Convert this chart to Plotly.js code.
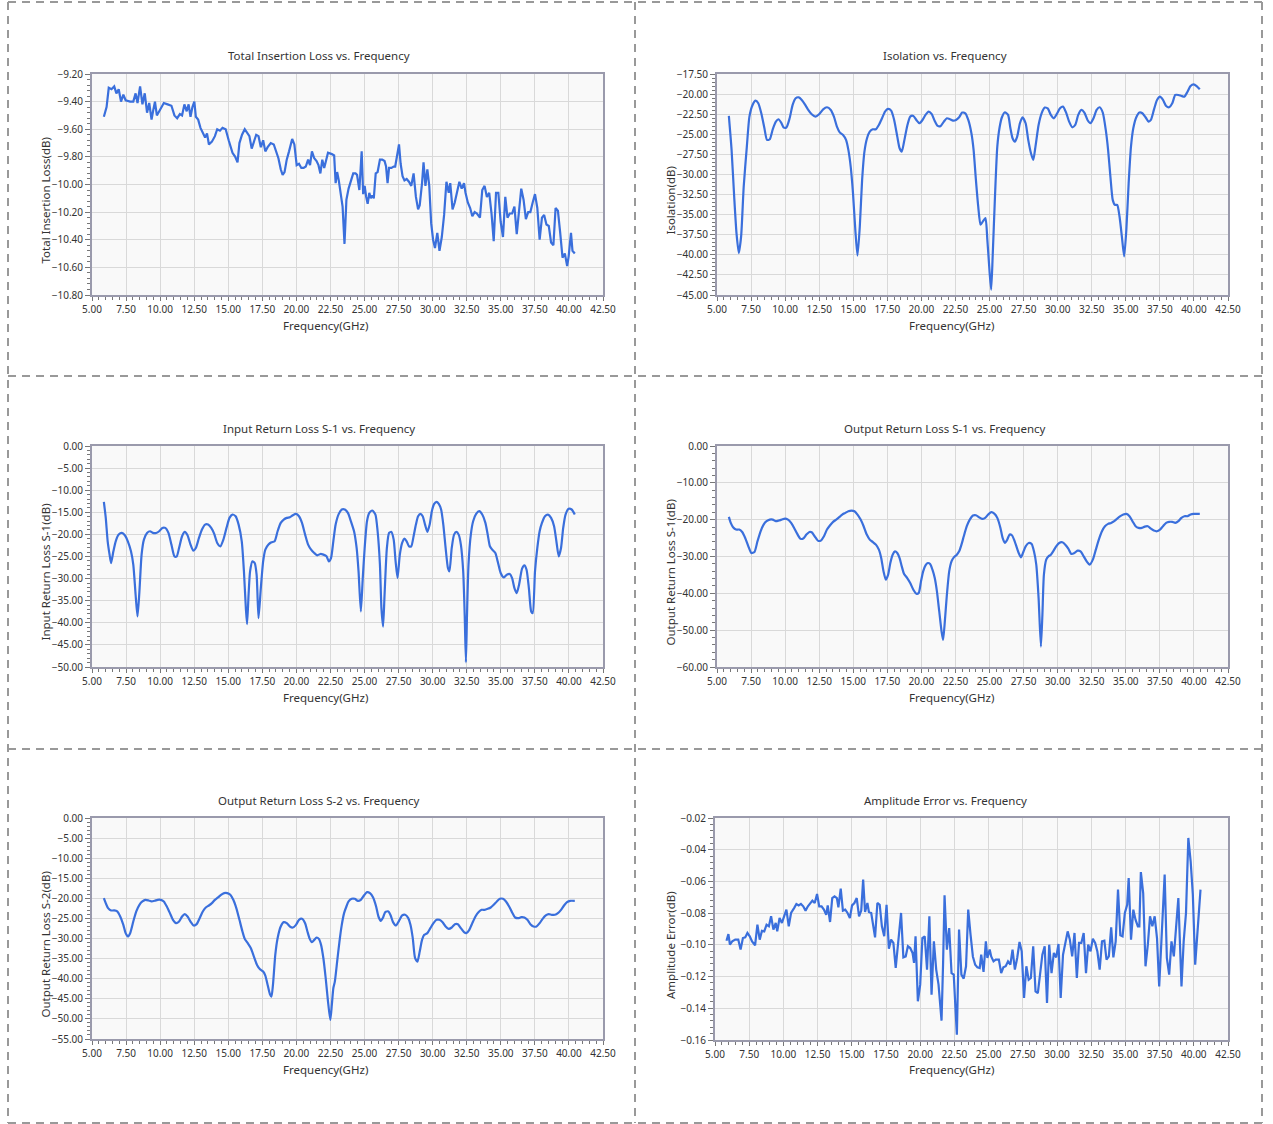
<!DOCTYPE html>
<html>
<head>
<meta charset="utf-8">
<script src="https://cdn.plot.ly/plotly-3.0.1.min.js"></script>
<style>html,body{margin:0;padding:0;background:#fff;}#chart{width:1273px;height:1124px;}</style>
</head>
<body>
<div id="chart"></div>
<script>
// ---------- DATA ----------
const titles = ["Total Insertion Loss vs. Frequency","Isolation vs. Frequency","Input Return Loss S-1 vs. Frequency","Output Return Loss S-1 vs. Frequency","Output Return Loss S-2 vs. Frequency","Amplitude Error vs. Frequency"];
const yTitles = ["Total Insertion Loss(dB)","Isolation(dB)","Input Return Loss S-1(dB)","Output Return Loss S-1(dB)","Output Return Loss S-2(dB)","Amplitude Error(dB)"];
const xTitle = "Frequency(GHz)";

const freqIL = [5.87,6.07,6.23,6.43,6.63,6.79,6.96,7.13,7.30,7.47,7.80,8.03,8.20,8.34,8.53,8.70,8.87,9.04,9.20,9.37,9.48,9.62,9.76,9.99,10.27,10.55,10.83,11.05,11.25,11.45,11.61,11.78,11.95,12.09,12.23,12.37,12.51,12.62,12.79,12.96,13.13,13.30,13.44,13.58,13.80,14.02,14.19,14.39,14.58,14.81,15.03,15.31,15.51,15.68,15.82,16.01,16.21,16.38,16.55,16.72,16.88,17.05,17.22,17.39,17.56,17.72,17.89,18.12,18.34,18.51,18.68,18.85,18.99,19.13,19.29,19.46,19.69,19.85,20.02,20.19,20.36,20.53,20.69,20.86,21.00,21.14,21.31,21.48,21.62,21.76,21.90,22.04,22.18,22.32,22.60,22.77,22.88,22.99,23.11,23.22,23.39,23.53,23.67,23.83,24.00,24.17,24.34,24.45,24.62,24.79,24.90,25.01,25.12,25.23,25.35,25.46,25.57,25.68,25.82,25.96,26.13,26.30,26.47,26.58,26.69,26.80,26.97,27.14,27.25,27.37,27.53,27.65,27.79,27.93,28.09,28.26,28.43,28.60,28.77,28.93,29.05,29.22,29.33,29.47,29.61,29.75,29.89,30.03,30.17,30.34,30.50,30.67,30.84,31.01,31.18,31.29,31.46,31.62,31.79,31.96,32.13,32.30,32.41,32.58,32.75,32.91,33.08,33.25,33.47,33.64,33.81,33.98,34.15,34.32,34.48,34.65,34.82,34.99,35.16,35.33,35.49,35.66,35.83,36.00,36.17,36.34,36.50,36.67,36.84,37.01,37.17,37.34,37.51,37.68,37.85,38.02,38.18,38.35,38.52,38.69,38.86,39.02,39.19,39.36,39.53,39.70,39.87,39.98,40.15,40.26,40.43];
const insertionLoss = [-9.51,-9.44,-9.30,-9.31,-9.29,-9.34,-9.31,-9.40,-9.35,-9.39,-9.40,-9.40,-9.34,-9.41,-9.29,-9.42,-9.34,-9.48,-9.41,-9.53,-9.47,-9.40,-9.50,-9.46,-9.41,-9.42,-9.43,-9.50,-9.52,-9.49,-9.50,-9.42,-9.47,-9.42,-9.51,-9.44,-9.40,-9.51,-9.53,-9.59,-9.62,-9.66,-9.63,-9.71,-9.69,-9.65,-9.60,-9.61,-9.59,-9.60,-9.68,-9.77,-9.80,-9.84,-9.70,-9.64,-9.60,-9.63,-9.65,-9.74,-9.69,-9.64,-9.65,-9.73,-9.68,-9.76,-9.73,-9.70,-9.71,-9.76,-9.81,-9.89,-9.93,-9.91,-9.82,-9.76,-9.67,-9.71,-9.86,-9.85,-9.88,-9.88,-9.87,-9.82,-9.86,-9.76,-9.81,-9.83,-9.86,-9.92,-9.82,-9.88,-9.83,-9.77,-9.78,-9.79,-9.99,-9.91,-9.97,-10.06,-10.16,-10.43,-10.11,-10.03,-9.97,-9.92,-9.92,-9.93,-10.04,-9.76,-10.07,-10.01,-10.09,-10.14,-10.06,-10.10,-10.08,-10.10,-9.92,-9.91,-9.82,-9.82,-9.83,-9.87,-9.99,-9.88,-9.88,-9.87,-9.87,-9.79,-9.71,-9.85,-9.94,-9.97,-9.96,-9.98,-10.01,-9.92,-10.09,-10.18,-10.15,-9.99,-9.84,-10.01,-9.89,-10.01,-10.28,-10.40,-10.46,-10.35,-10.48,-10.38,-10.22,-9.98,-10.06,-9.99,-10.18,-10.13,-10.06,-9.98,-10.03,-9.99,-10.06,-10.13,-10.17,-10.23,-10.20,-10.21,-10.24,-10.04,-10.01,-10.09,-10.06,-10.21,-10.41,-10.06,-10.06,-10.27,-10.38,-10.09,-10.24,-10.21,-10.21,-10.16,-10.36,-10.17,-10.03,-10.11,-10.25,-10.20,-10.20,-10.13,-10.07,-10.17,-10.40,-10.24,-10.22,-10.29,-10.30,-10.42,-10.44,-10.17,-10.19,-10.35,-10.53,-10.50,-10.59,-10.52,-10.35,-10.48,-10.50];

const freqISO = [5.87,6.07,6.26,6.43,6.60,6.77,6.96,7.19,7.38,7.61,7.83,8.03,8.25,8.48,8.67,8.87,9.09,9.32,9.51,9.71,9.90,10.10,10.33,10.55,10.77,11.00,11.22,11.45,11.67,11.95,12.23,12.51,12.79,13.07,13.35,13.58,13.80,14.02,14.25,14.47,14.64,14.81,14.98,15.15,15.31,15.48,15.65,15.82,16.01,16.21,16.43,16.66,16.88,17.11,17.33,17.56,17.78,18.00,18.23,18.40,18.56,18.73,18.96,19.18,19.41,19.63,19.85,20.08,20.30,20.53,20.75,20.98,21.20,21.42,21.65,21.87,22.10,22.32,22.54,22.77,22.99,23.22,23.44,23.67,23.83,24.00,24.17,24.34,24.51,24.70,24.84,25.01,25.12,25.23,25.40,25.57,25.74,25.91,26.13,26.36,26.52,26.69,26.86,27.03,27.23,27.42,27.65,27.84,28.04,28.21,28.37,28.60,28.82,29.05,29.27,29.50,29.72,29.94,30.17,30.39,30.62,30.84,31.07,31.29,31.51,31.74,31.96,32.19,32.41,32.63,32.86,33.08,33.31,33.53,33.70,33.87,34.04,34.20,34.37,34.54,34.71,34.88,35.04,35.21,35.38,35.55,35.77,36.00,36.22,36.45,36.67,36.84,37.06,37.29,37.51,37.73,37.96,38.18,38.41,38.63,38.86,39.08,39.30,39.53,39.75,39.98,40.20,40.43];
const isolation = [-22.72,-26.94,-32.74,-37.30,-39.78,-37.71,-31.50,-26.53,-22.80,-21.35,-20.81,-21.14,-22.39,-24.25,-25.70,-25.62,-24.38,-23.42,-23.13,-23.55,-24.17,-24.13,-23.01,-21.35,-20.52,-20.40,-20.73,-21.27,-21.89,-22.51,-22.80,-22.47,-21.89,-21.64,-21.97,-22.80,-24.04,-24.79,-25.08,-25.70,-26.94,-29.01,-32.33,-36.88,-40.11,-36.47,-30.67,-27.15,-25.49,-24.67,-24.38,-24.38,-23.84,-23.01,-22.18,-21.85,-22.06,-23.22,-25.29,-26.74,-27.15,-25.91,-23.96,-22.80,-22.72,-23.22,-23.63,-23.22,-22.59,-22.18,-22.47,-23.34,-23.96,-23.96,-23.42,-23.01,-23.13,-23.30,-23.22,-22.88,-22.30,-22.39,-23.22,-24.87,-26.94,-30.67,-33.98,-36.26,-35.85,-35.43,-38.13,-42.27,-44.34,-40.20,-32.74,-26.53,-24.13,-22.88,-22.26,-22.59,-24.13,-25.49,-25.91,-25.29,-23.63,-22.88,-23.63,-25.70,-27.36,-28.19,-26.53,-23.84,-22.39,-21.68,-21.77,-22.59,-23.01,-22.47,-21.77,-21.56,-22.30,-23.42,-24.13,-23.84,-22.59,-21.97,-22.30,-23.22,-23.63,-23.01,-21.97,-21.64,-22.30,-24.46,-26.94,-30.26,-33.16,-33.78,-33.78,-35.23,-37.71,-40.20,-36.88,-31.08,-26.53,-24.25,-22.88,-22.30,-22.39,-22.88,-23.42,-23.22,-21.97,-20.73,-20.32,-20.73,-21.48,-21.64,-21.14,-20.11,-20.11,-20.23,-20.32,-19.70,-19.00,-18.78,-19.00,-19.41];

const freqIRL = [5.87,6.01,6.15,6.29,6.40,6.57,6.74,6.96,7.19,7.41,7.63,7.86,8.03,8.20,8.34,8.48,8.64,8.81,9.04,9.26,9.48,9.71,9.93,10.16,10.38,10.61,10.83,11.05,11.22,11.39,11.61,11.81,12.01,12.23,12.43,12.62,12.85,13.07,13.30,13.52,13.75,13.97,14.19,14.42,14.64,14.87,15.09,15.31,15.54,15.76,15.99,16.15,16.29,16.38,16.49,16.60,16.77,16.94,17.08,17.22,17.39,17.56,17.72,17.95,18.17,18.40,18.62,18.85,19.07,19.29,19.52,19.74,19.97,20.19,20.41,20.64,20.86,21.08,21.31,21.53,21.76,21.98,22.21,22.38,22.54,22.71,22.88,23.11,23.33,23.55,23.78,24.00,24.23,24.42,24.56,24.73,24.87,25.01,25.18,25.35,25.57,25.80,25.96,26.13,26.24,26.36,26.47,26.64,26.80,26.97,27.14,27.28,27.42,27.59,27.76,27.93,28.09,28.26,28.43,28.60,28.77,28.93,29.10,29.27,29.44,29.61,29.78,29.94,30.11,30.28,30.45,30.62,30.78,30.95,31.12,31.23,31.40,31.57,31.74,31.91,32.07,32.24,32.35,32.44,32.52,32.63,32.80,32.97,33.19,33.42,33.64,33.87,34.04,34.20,34.37,34.60,34.77,34.99,35.21,35.44,35.66,35.83,36.00,36.17,36.34,36.56,36.73,36.89,37.06,37.23,37.34,37.51,37.68,37.85,38.02,38.24,38.46,38.69,38.91,39.08,39.25,39.42,39.58,39.75,39.98,40.20,40.43];
const inputRL = [-12.63,-16.26,-21.56,-24.58,-26.48,-23.83,-21.56,-20.05,-19.67,-20.20,-21.56,-23.83,-26.85,-33.66,-38.58,-32.90,-24.58,-21.18,-19.67,-19.29,-19.67,-19.67,-19.29,-18.53,-18.53,-19.67,-22.31,-24.96,-24.96,-23.07,-20.42,-19.44,-20.20,-22.31,-23.68,-23.07,-20.80,-18.91,-17.78,-17.78,-18.53,-19.89,-21.94,-22.69,-21.18,-18.53,-16.26,-15.51,-15.89,-17.78,-21.56,-28.37,-36.69,-40.32,-33.66,-28.37,-26.10,-26.48,-29.12,-38.96,-32.15,-26.10,-23.45,-22.31,-21.79,-21.56,-19.29,-17.40,-16.64,-16.26,-16.11,-15.66,-15.36,-15.89,-17.40,-20.05,-22.31,-23.45,-24.21,-24.73,-24.43,-24.58,-24.96,-26.10,-25.34,-21.56,-17.78,-15.36,-14.37,-14.37,-15.13,-17.02,-19.29,-23.07,-28.37,-37.44,-29.88,-23.07,-17.02,-15.13,-14.60,-15.51,-19.29,-26.85,-36.69,-40.85,-33.66,-23.07,-19.67,-19.44,-21.18,-26.10,-29.88,-24.58,-21.94,-20.95,-21.56,-22.69,-22.69,-20.42,-17.78,-15.89,-15.36,-15.89,-17.78,-19.44,-17.78,-14.75,-13.09,-12.63,-13.09,-14.37,-17.78,-23.07,-27.61,-28.37,-23.07,-20.05,-19.44,-20.05,-22.31,-28.37,-38.20,-48.94,-38.20,-26.85,-20.05,-17.02,-15.36,-14.75,-15.51,-17.40,-20.05,-22.69,-23.45,-24.21,-26.10,-28.74,-29.73,-29.12,-28.97,-29.88,-32.15,-33.28,-31.39,-27.76,-27.00,-27.99,-32.15,-37.44,-37.82,-28.37,-23.07,-19.29,-17.40,-15.89,-15.51,-16.26,-18.15,-21.56,-24.96,-23.07,-18.53,-15.51,-14.22,-14.37,-15.51];

const freqORL1 = [5.87,6.01,6.18,6.40,6.63,6.85,7.07,7.30,7.52,7.75,7.97,8.20,8.42,8.64,8.87,9.09,9.32,9.54,9.76,9.99,10.21,10.44,10.66,10.89,11.11,11.33,11.56,11.78,11.95,12.17,12.40,12.62,12.85,13.07,13.30,13.52,13.75,13.97,14.19,14.42,14.64,14.87,15.09,15.31,15.54,15.76,15.99,16.21,16.43,16.66,16.88,17.05,17.22,17.39,17.56,17.72,17.89,18.06,18.23,18.40,18.56,18.73,18.96,19.18,19.41,19.63,19.80,19.97,20.13,20.30,20.47,20.64,20.81,20.98,21.14,21.31,21.48,21.59,21.70,21.87,22.04,22.21,22.38,22.60,22.77,22.94,23.11,23.33,23.55,23.78,24.00,24.23,24.45,24.68,24.90,25.12,25.35,25.57,25.80,25.96,26.13,26.30,26.47,26.64,26.80,26.97,27.14,27.31,27.48,27.65,27.87,28.09,28.26,28.43,28.60,28.77,28.88,28.99,29.16,29.33,29.50,29.67,29.89,30.11,30.34,30.56,30.78,31.01,31.23,31.46,31.68,31.91,32.13,32.35,32.58,32.80,33.02,33.25,33.47,33.70,33.92,34.15,34.37,34.60,34.82,35.04,35.27,35.49,35.72,35.94,36.17,36.39,36.61,36.84,37.06,37.29,37.51,37.73,37.96,38.18,38.41,38.63,38.86,39.08,39.30,39.53,39.75,39.98,40.43];
const outputRL1 = [-19.24,-20.88,-22.06,-22.69,-22.69,-23.33,-24.96,-27.23,-29.05,-28.77,-25.87,-23.15,-21.33,-20.42,-19.97,-19.97,-20.42,-20.24,-19.97,-19.70,-19.97,-20.88,-22.24,-23.87,-25.14,-25.14,-24.05,-23.33,-23.42,-24.51,-25.69,-25.69,-24.51,-22.69,-21.51,-20.60,-19.97,-19.33,-18.61,-18.15,-17.70,-17.52,-17.70,-18.61,-19.97,-21.78,-24.05,-25.42,-26.05,-26.78,-28.14,-30.41,-34.04,-36.31,-34.95,-31.77,-29.50,-28.59,-29.05,-30.41,-32.68,-34.76,-35.85,-37.22,-39.03,-40.12,-39.94,-36.76,-34.04,-32.40,-31.77,-32.04,-33.58,-35.85,-39.48,-44.93,-50.38,-52.65,-48.56,-40.39,-34.04,-31.32,-30.23,-29.50,-28.59,-26.78,-24.51,-21.78,-19.97,-18.88,-18.79,-19.33,-19.79,-19.51,-18.61,-17.97,-18.34,-19.51,-22.24,-24.96,-26.32,-25.42,-24.05,-24.24,-25.42,-27.23,-29.05,-30.23,-28.77,-27.23,-26.32,-26.60,-28.59,-32.22,-41.30,-54.46,-45.84,-34.95,-30.86,-29.95,-29.50,-28.59,-27.23,-26.32,-26.14,-26.78,-27.87,-29.32,-29.05,-28.41,-28.59,-29.95,-31.32,-32.22,-30.86,-28.14,-25.42,-23.15,-21.78,-21.15,-20.88,-20.42,-19.70,-19.06,-18.61,-18.43,-19.06,-20.42,-21.78,-22.24,-22.24,-21.88,-21.78,-22.42,-22.96,-23.15,-22.69,-21.78,-20.88,-20.60,-20.60,-20.88,-20.42,-19.51,-19.06,-19.06,-18.61,-18.43,-18.43];

const freqORL2 = [5.87,6.01,6.18,6.40,6.63,6.85,7.07,7.30,7.47,7.63,7.80,8.03,8.25,8.48,8.70,8.92,9.15,9.37,9.60,9.82,10.04,10.27,10.49,10.72,10.94,11.17,11.39,11.61,11.81,12.01,12.23,12.46,12.68,12.90,13.13,13.35,13.58,13.80,14.02,14.25,14.47,14.70,14.92,15.15,15.37,15.59,15.82,16.04,16.21,16.43,16.66,16.88,17.11,17.33,17.56,17.72,17.89,18.06,18.17,18.28,18.45,18.62,18.85,19.07,19.29,19.52,19.74,19.97,20.19,20.41,20.64,20.81,20.98,21.14,21.31,21.48,21.65,21.81,21.98,22.15,22.32,22.49,22.60,22.71,22.82,22.99,23.16,23.33,23.50,23.67,23.83,24.06,24.28,24.51,24.73,24.96,25.18,25.40,25.63,25.85,26.02,26.19,26.36,26.52,26.75,26.92,27.09,27.31,27.53,27.76,27.98,28.21,28.37,28.54,28.71,28.88,29.05,29.22,29.38,29.61,29.83,30.06,30.28,30.50,30.73,30.95,31.18,31.40,31.63,31.85,32.07,32.30,32.47,32.69,32.91,33.14,33.36,33.59,33.81,34.04,34.26,34.48,34.71,34.93,35.16,35.38,35.61,35.83,36.05,36.28,36.50,36.73,36.95,37.17,37.40,37.62,37.85,38.07,38.30,38.52,38.74,38.97,39.19,39.42,39.64,39.86,40.09,40.43];
const outputRL2 = [-19.94,-21.19,-22.43,-23.01,-23.01,-23.26,-24.51,-26.59,-28.66,-29.49,-28.66,-25.76,-23.26,-21.60,-20.77,-20.36,-20.52,-20.77,-20.61,-20.36,-20.36,-20.77,-22.02,-23.68,-25.34,-26.17,-25.76,-24.51,-23.93,-24.51,-25.76,-26.75,-26.42,-24.93,-23.26,-22.27,-21.77,-21.19,-20.36,-19.77,-19.11,-18.69,-18.69,-19.11,-20.36,-22.43,-25.34,-28.25,-30.08,-31.16,-32.40,-34.48,-36.56,-37.64,-38.22,-39.22,-41.54,-43.87,-44.45,-41.54,-34.06,-29.91,-27.00,-25.92,-26.17,-27.00,-27.25,-26.59,-25.34,-25.09,-26.17,-28.25,-30.08,-30.91,-30.33,-29.74,-30.08,-31.57,-34.90,-39.88,-45.70,-50.27,-46.53,-42.37,-40.71,-35.73,-30.74,-26.59,-23.68,-22.02,-20.77,-20.11,-20.11,-20.61,-20.36,-19.28,-18.44,-18.69,-19.77,-22.02,-24.51,-25.59,-24.76,-23.43,-23.26,-24.26,-25.92,-26.75,-25.59,-24.26,-24.09,-24.93,-26.59,-29.91,-34.90,-35.73,-33.23,-30.33,-29.08,-28.66,-27.42,-26.17,-25.34,-25.34,-25.92,-27.00,-27.58,-27.25,-26.42,-26.42,-27.42,-28.41,-28.66,-27.83,-26.17,-24.51,-23.43,-22.85,-22.85,-22.60,-22.27,-21.60,-20.77,-20.11,-20.11,-20.77,-22.02,-23.51,-24.76,-24.93,-24.68,-24.76,-25.34,-26.42,-27.00,-27.00,-26.17,-25.09,-24.26,-23.93,-24.09,-24.09,-23.68,-22.85,-21.77,-20.94,-20.61,-20.61];

const freqAE = [5.84,5.98,6.09,6.26,6.48,6.70,6.87,7.04,7.21,7.37,7.54,7.71,7.93,8.10,8.27,8.43,8.60,8.77,8.94,9.10,9.27,9.44,9.55,9.72,9.89,10.05,10.22,10.39,10.56,10.78,10.95,11.12,11.28,11.45,11.62,11.79,11.95,12.12,12.29,12.46,12.62,12.79,12.96,13.13,13.24,13.41,13.57,13.74,13.91,14.02,14.19,14.35,14.52,14.69,14.86,15.02,15.19,15.36,15.53,15.69,15.83,15.97,16.14,16.25,16.42,16.53,16.70,16.87,17.04,17.20,17.37,17.54,17.71,17.87,18.04,18.21,18.38,18.60,18.77,18.94,19.10,19.27,19.44,19.55,19.66,19.83,20.00,20.16,20.33,20.50,20.67,20.83,21.00,21.17,21.34,21.56,21.67,21.78,21.95,22.12,22.29,22.45,22.68,22.84,23.01,23.18,23.35,23.51,23.68,23.85,24.02,24.18,24.35,24.46,24.63,24.80,24.91,25.08,25.19,25.36,25.52,25.75,25.92,26.08,26.25,26.42,26.59,26.75,26.92,27.09,27.26,27.42,27.59,27.76,27.93,28.09,28.26,28.43,28.60,28.76,28.93,29.10,29.27,29.43,29.60,29.77,29.94,30.11,30.27,30.44,30.61,30.78,30.94,31.11,31.28,31.45,31.61,31.78,31.95,32.12,32.28,32.45,32.62,32.79,32.95,33.12,33.29,33.46,33.62,33.79,33.96,34.12,34.29,34.46,34.63,34.79,34.96,35.13,35.24,35.41,35.58,35.74,35.91,36.02,36.13,36.30,36.47,36.64,36.80,36.97,37.14,37.31,37.47,37.64,37.87,38.03,38.20,38.37,38.54,38.70,38.87,39.10,39.26,39.43,39.60,39.77,39.93,40.10,40.27,40.49];
const amplitudeError = [-0.0974,-0.0932,-0.0999,-0.0978,-0.0967,-0.0967,-0.1030,-0.0957,-0.0953,-0.0925,-0.0946,-0.0978,-0.1003,-0.0873,-0.0967,-0.0911,-0.0915,-0.0873,-0.0883,-0.0820,-0.0904,-0.0862,-0.0915,-0.0831,-0.0862,-0.0820,-0.0778,-0.0883,-0.0799,-0.0768,-0.0742,-0.0751,-0.0742,-0.0757,-0.0784,-0.0757,-0.0736,-0.0721,-0.0736,-0.0679,-0.0757,-0.0757,-0.0778,-0.0810,-0.0751,-0.0856,-0.0705,-0.0694,-0.0705,-0.0763,-0.0646,-0.0784,-0.0778,-0.0799,-0.0831,-0.0751,-0.0736,-0.0705,-0.0820,-0.0784,-0.0589,-0.0793,-0.0736,-0.0793,-0.0799,-0.0852,-0.0953,-0.0736,-0.0747,-0.0883,-0.0946,-0.0747,-0.1024,-0.0967,-0.0988,-0.1146,-0.0988,-0.0799,-0.1079,-0.1073,-0.1009,-0.1020,-0.1051,-0.1114,-0.0946,-0.1356,-0.1251,-0.0957,-0.0946,-0.1156,-0.0820,-0.1314,-0.0978,-0.1156,-0.1251,-0.1478,-0.1125,-0.0688,-0.1030,-0.0894,-0.1178,-0.1188,-0.1566,-0.0904,-0.1188,-0.1213,-0.1135,-0.0778,-0.0936,-0.1073,-0.1125,-0.1142,-0.1146,-0.1062,-0.1171,-0.0978,-0.1083,-0.1030,-0.1073,-0.1104,-0.1093,-0.1093,-0.1178,-0.1142,-0.1135,-0.1104,-0.1125,-0.1030,-0.1156,-0.1083,-0.0982,-0.1041,-0.1335,-0.1135,-0.1220,-0.1209,-0.1009,-0.1293,-0.1304,-0.1188,-0.1062,-0.1009,-0.1367,-0.0999,-0.1178,-0.1051,-0.1079,-0.0995,-0.1335,-0.1062,-0.0999,-0.0915,-0.0967,-0.1073,-0.0925,-0.1209,-0.0988,-0.0988,-0.0925,-0.1178,-0.0999,-0.1041,-0.0961,-0.0988,-0.1041,-0.1156,-0.0978,-0.0974,-0.1093,-0.1073,-0.0889,-0.1079,-0.0978,-0.0652,-0.0940,-0.0946,-0.0799,-0.0747,-0.0578,-0.0967,-0.0778,-0.0841,-0.0883,-0.0883,-0.0541,-0.0673,-0.1135,-0.0999,-0.0820,-0.0883,-0.0820,-0.0957,-0.1262,-0.0978,-0.0557,-0.1083,-0.1188,-0.0978,-0.1073,-0.0894,-0.0705,-0.1262,-0.0978,-0.0799,-0.0326,-0.0473,-0.0683,-0.1125,-0.0915,-0.0652];

const xTickVals = [5,7.5,10,12.5,15,17.5,20,22.5,25,27.5,30,32.5,35,37.5,40,42.5];
const yRanges = [[-10.8,-9.2],[-45,-17.5],[-50,0],[-60,0],[-55,0],[-0.16,-0.02]];
const yDticks = [0.2,2.5,5,10,5,0.02];

// ---------- LAYOUT ----------
const W = 1273, H = 1124;
const px = v => v / W, py = v => 1 - v / H;
const series = [[freqIL,insertionLoss,'linear'],[freqISO,isolation,'spline'],[freqIRL,inputRL,'spline'],[freqORL1,outputRL1,'spline'],[freqORL2,outputRL2,'spline'],[freqAE,amplitudeError,'linear']];
const plotBoxes = [ // left, right, top, bottom in px
  [92,603,74,295],[717,1228,74,295],
  [92,603,446,667],[717,1228,446,667],
  [92,603,818,1039],[715,1228,818,1040]
];
const titleX = [319,945], xTitleX = [326,951], yTitleX = [45,670];
const rowTitleY = [56,428,800], rowXTitleY = [325,697,1069];

const traces = [], layout = {
  width: W, height: H, margin:{l:0,r:0,t:0,b:0}, showlegend:false,
  paper_bgcolor:'#ffffff', font:{family:'Noto Sans, Open Sans, sans-serif', size:10, color:'#333'},
  annotations:[], shapes:[]
};
series.forEach((s,i) => {
  const n = i === 0 ? '' : String(i+1);
  traces.push({x:s[0], y:s[1], type:'scatter', mode:'lines', xaxis:'x'+n, yaxis:'y'+n,
    line:{color:'#3a6fdc', width:2.2, shape:s[2], smoothing:0.6}, hoverinfo:'x+y'});
  const b = plotBoxes[i];
  const common = {showline:true, mirror:true, linecolor:'#9a9aac', linewidth:2, showgrid:true,
    gridcolor:'#d9d9d9', gridwidth:1, zeroline:false, ticks:'outside', ticklen:5, tickcolor:'#777',
    tickformat:'.2f', tickfont:{size:10, color:'#333'}, fixedrange:true};
  layout['xaxis'+n] = Object.assign({}, common, {domain:[px(b[0]),px(b[1])], range:[5,42.5],
    tickmode:'array', tickvals:xTickVals, anchor:'y'+n, ticklen:4,
    minor:{ticks:'outside', ticklen:3, dtick:0.5, tickcolor:'#777', showgrid:false}});
  layout['yaxis'+n] = Object.assign({}, common, {domain:[py(b[3]),py(b[2])], range:yRanges[i],
    dtick:yDticks[i], tick0:yRanges[i][0], anchor:'x'+n,
    minor:{ticks:'outside', ticklen:3, dtick:yDticks[i]/5, tickcolor:'#777', showgrid:false}});
  const col = i % 2, row = Math.floor(i/2);
  layout.annotations.push({text:titles[i], xref:'paper', yref:'paper', x:px(titleX[col]), y:py(rowTitleY[row]),
    xanchor:'center', yanchor:'middle', showarrow:false, font:{size:11.5, color:'#333'}});
  layout.annotations.push({text:xTitle, xref:'paper', yref:'paper', x:px(xTitleX[col]), y:py(rowXTitleY[row]),
    xanchor:'center', yanchor:'middle', showarrow:false, font:{size:11.5, color:'#333'}});
  layout.annotations.push({text:yTitles[i], xref:'paper', yref:'paper', x:px(yTitleX[col]), y:py((b[2]+b[3])/2+16),
    xanchor:'center', yanchor:'middle', textangle:-90, showarrow:false, font:{size:11.5, color:'#333'}});
});
// plot background rectangles
plotBoxes.forEach((b,i) => {
  layout.shapes.push({type:'rect', xref:'paper', yref:'paper', x0:px(b[0]), x1:px(b[1]), y0:py(b[3]), y1:py(b[2]),
    fillcolor:'#f9f9f9', line:{width:0}, layer:'below'});
});
// dashed cell borders
const dash = {color:'#999999', width:2, dash:'8px,6px'};
const lines = [[8,2,1262,2],[8,1123,1262,1123],[8,2,8,1123],[1262,2,1262,1123],[635,2,635,1123],[8,376,1262,376],[8,749,1262,749]];
lines.forEach(l => layout.shapes.push({type:'line', xref:'paper', yref:'paper', x0:px(l[0]), y0:py(l[1]), x1:px(l[2]), y1:py(l[3]), line:dash}));

Plotly.newPlot('chart', traces, layout, {displayModeBar:false, staticPlot:true});
</script>
</body>
</html>
